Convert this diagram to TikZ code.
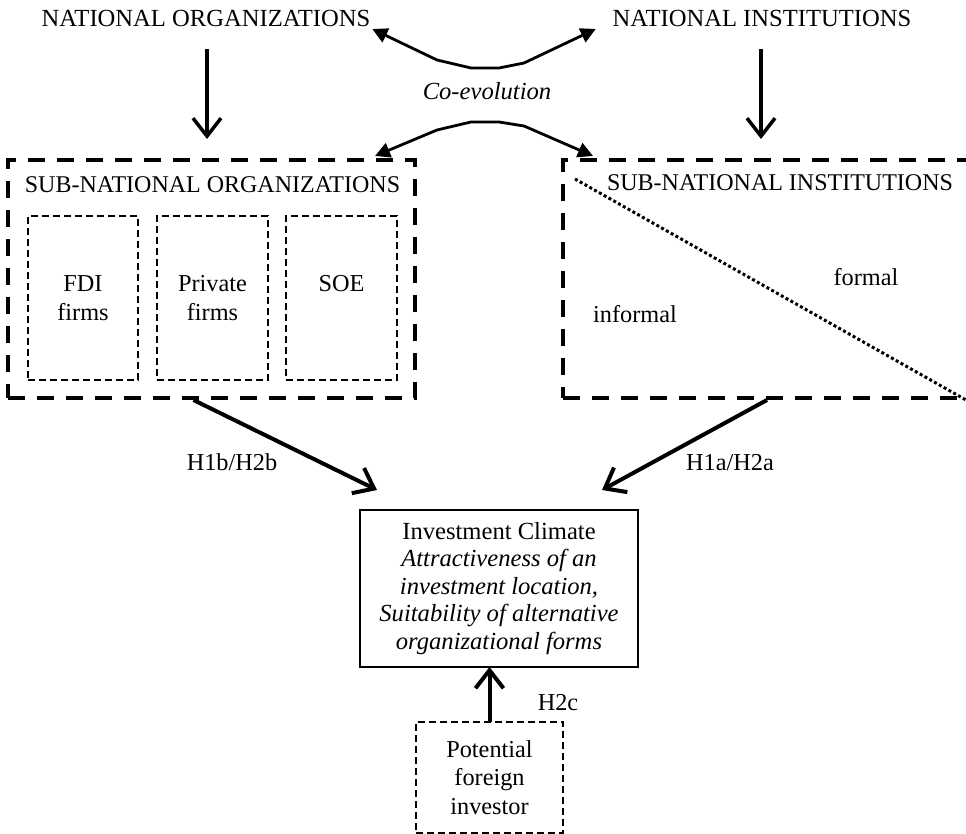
\documentclass[tikz,border=0pt]{standalone}
\usepackage{fontspec}
\setmainfont{Liberation Serif}
\usetikzlibrary{arrows.meta,calc}
\begin{document}
\begin{tikzpicture}[x=1pt,y=-1pt,
  lbl/.style={inner sep=0pt, outer sep=0pt, font=\fontsize{24.3}{29}\selectfont, anchor=base},
  bigbox/.style={draw, line width=4pt, dash pattern=on 17pt off 12pt, outer sep=0pt, inner sep=0pt},
  smallbox/.style={draw, line width=1.3pt, dash pattern=on 7pt off 4pt, align=center, outer sep=0pt, inner sep=0pt, font=\fontsize{24.3}{29}\selectfont},
  solidbox/.style={draw, line width=1.3pt, align=center, outer sep=0pt, inner sep=0pt, font=\fontsize{24.6}{27.5}\selectfont},
  downarrow/.style={line width=3.5pt, -{Straight Barb[length=18pt,width=28pt]}},
  harrow/.style={line width=4pt, -{Straight Barb[length=18pt,width=28pt]}},
  coarrow/.style={line width=2.8pt, {Triangle[length=15pt,width=15pt]}-{Triangle[length=15pt,width=15pt]}, line join=round},
  dotline/.style={line width=3pt, dash pattern=on 3pt off 2.5pt},
]
\useasboundingbox (0,0) rectangle (966,834);
\clip (0,0) rectangle (966,834);

% top texts
\node[lbl, font=\fontsize{24.6}{29}\selectfont] (natorg) at (206,27) {NATIONAL ORGANIZATIONS};
\node[lbl, font=\fontsize{24.6}{29}\selectfont] (natinst) at (762,27) {NATIONAL INSTITUTIONS};
\node[lbl, font=\fontsize{24.6}{29}\selectfont\itshape] (coevo) at (487,100) {Co-evolution};

% sub-national boxes
\node[bigbox, minimum width=407pt, minimum height=238pt] (suborg) at (211.5,279) {};
\node[bigbox, minimum width=420pt, minimum height=238pt] (subinst) at (773,279) {};
\node[lbl, font=\fontsize{24}{29}\selectfont] (suborgtitle) at (212.5,193) {SUB-NATIONAL ORGANIZATIONS};
\node[lbl, font=\fontsize{24}{29}\selectfont] (subinsttitle) at (780,191) {SUB-NATIONAL INSTITUTIONS};

% inner boxes
\node[smallbox, minimum width=110pt, minimum height=164pt] (fdi) at (83,298) {FDI\\firms};
\node[smallbox, minimum width=111pt, minimum height=164pt] (private) at (212.5,298) {Private\\firms};
\node[smallbox, minimum width=111pt, minimum height=164pt] (soe) at (341.5,298) {SOE\\\phantom{firms}};

% institutions split
\draw[dotline] ($(subinst.north west)+(12,19)$) -- ($(subinst.south west)+(403,2)$);
\node[lbl] (formal) at (866,286) {formal};
\node[lbl] (informal) at (635,322) {informal};

% investment climate
\node[solidbox, minimum width=278pt, minimum height=157pt] (invest) at (499,588.5)
  {Investment Climate\\\textit{Attractiveness of an}\\\textit{investment location,}\\\textit{Suitability of alternative}\\\textit{organizational forms}};

% potential investor
\node[smallbox, minimum width=147pt, minimum height=111pt, font=\fontsize{24.3}{28.5}\selectfont] (potential) at (489.5,777.5) {Potential\\foreign\\investor};

% arrows
\draw[downarrow] ($(natorg.base)+(1,22)$) -- ($(natorg.base)+(1,112)$);
\draw[downarrow] ($(natinst.base)+(-1,22)$) -- ($(natinst.base)+(-1,112)$);

\draw[coarrow] ($(natorg.base east)+(2,2)$) -- (437,60) -- (471,68) -- (499,68) -- (524,63) -- ($(natinst.base west)+(-17,2)$);
\draw[coarrow] ($(suborg.north east)+(-40,-4)$) -- (437,130) -- (471,122) -- (499,122) -- (524,126) -- ($(subinst.north west)+(30,-4)$);

\draw[harrow] ($(suborg.south)+(-18,2)$) -- ($(invest.north west)+(17,-20)$);
\draw[harrow] ($(subinst.south west)+(204,2)$) -- ($(invest.north east)+(-36,-20)$);
\draw[harrow] (potential.north) -- (potential.north |- invest.south);

\node[lbl] (h1b) at (232,470) {H1b/H2b};
\node[lbl] (h1a) at (730,470) {H1a/H2a};
\node[lbl] (h2c) at (558,710) {H2c};
\end{tikzpicture}
\end{document}
